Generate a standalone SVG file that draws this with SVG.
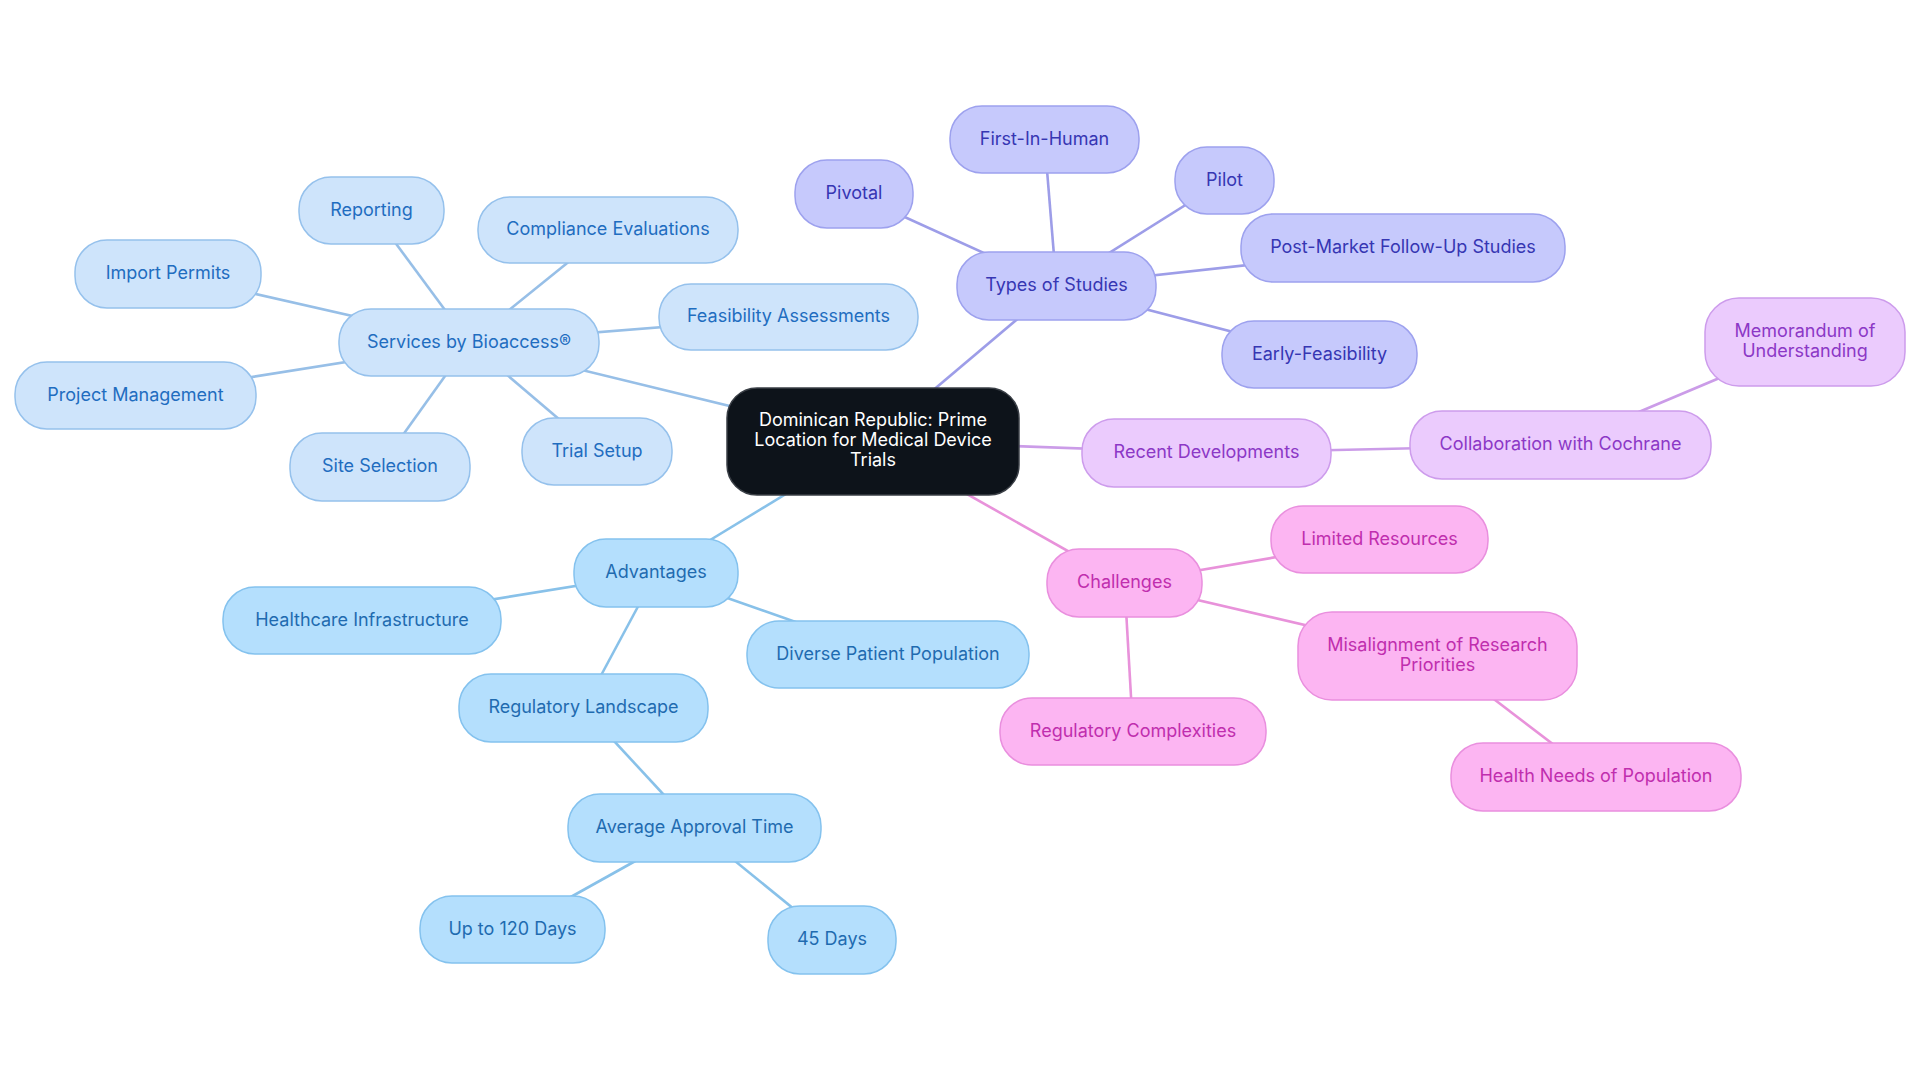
<svg xmlns="http://www.w3.org/2000/svg" width="1920" height="1083" viewBox="0 0 1920 1083">
<style>
text{font-family:Inter,"Noto Sans","Liberation Sans",sans-serif;font-size:18px;text-anchor:middle;dominant-baseline:central;transform:translateY(-1.5px)}
rect{stroke-width:1.5}
.e line{stroke-width:2.6;fill:none}
.c rect{fill:#0d131a;stroke:#3a3f46}
.c text{fill:#ffffff}
.s rect{fill:#cee4fb;stroke:#95c1ec}
.s text{fill:#1f6dc0}
.t rect{fill:#c6c9fc;stroke:#9da1ee}
.t text{fill:#3636b3}
.r rect{fill:#ebcbfd;stroke:#cd9cec}
.r text{fill:#8c38c6}
.h rect{fill:#fcb5f2;stroke:#e98fde}
.h text{fill:#c02eae}
.a rect{fill:#b4dffd;stroke:#84c2ee}
.a text{fill:#1f6bb0}
.es{stroke:#97bfe7}
.et{stroke:#9d9de8}
.er{stroke:#cb9ce8}
.eh{stroke:#e892da}
.ea{stroke:#88c1e9}
</style>
<rect width="1920" height="1083" fill="#ffffff"/>
<g id="connectors" class="e">
<line class="es" x1="873" y1="441" x2="469" y2="342.5"/>
<line class="et" x1="873" y1="441" x2="1056.5" y2="286"/>
<line class="er" x1="873" y1="441" x2="1206.5" y2="453"/>
<line class="eh" x1="873" y1="441" x2="1124.5" y2="583"/>
<line class="ea" x1="873" y1="441" x2="656" y2="573"/>
<line class="es" x1="469" y1="342.5" x2="371.5" y2="210.5"/>
<line class="es" x1="469" y1="342.5" x2="608" y2="230"/>
<line class="es" x1="469" y1="342.5" x2="168" y2="274"/>
<line class="es" x1="469" y1="342.5" x2="788.5" y2="317"/>
<line class="es" x1="469" y1="342.5" x2="135.5" y2="395.5"/>
<line class="es" x1="469" y1="342.5" x2="380" y2="467"/>
<line class="es" x1="469" y1="342.5" x2="597" y2="451.5"/>
<line class="et" x1="1056.5" y1="286" x2="854" y2="194"/>
<line class="et" x1="1056.5" y1="286" x2="1044.5" y2="139.5"/>
<line class="et" x1="1056.5" y1="286" x2="1224.5" y2="180.5"/>
<line class="et" x1="1056.5" y1="286" x2="1403" y2="248"/>
<line class="et" x1="1056.5" y1="286" x2="1319.5" y2="354.5"/>
<line class="er" x1="1206.5" y1="453" x2="1560.5" y2="445"/>
<line class="er" x1="1560.5" y1="445" x2="1805" y2="342"/>
<line class="eh" x1="1124.5" y1="583" x2="1379.5" y2="539.5"/>
<line class="eh" x1="1124.5" y1="583" x2="1437.5" y2="656"/>
<line class="eh" x1="1124.5" y1="583" x2="1133" y2="731.5"/>
<line class="eh" x1="1437.5" y1="656" x2="1596" y2="777"/>
<line class="ea" x1="656" y1="573" x2="362" y2="620.5"/>
<line class="ea" x1="656" y1="573" x2="888" y2="654.5"/>
<line class="ea" x1="656" y1="573" x2="583.5" y2="708"/>
<line class="ea" x1="583.5" y1="708" x2="694.5" y2="828"/>
<line class="ea" x1="694.5" y1="828" x2="512.5" y2="929.5"/>
<line class="ea" x1="694.5" y1="828" x2="832" y2="940"/>
</g>
<g id="central" class="c"><rect x="727" y="388" width="292" height="107" rx="30"/><text x="873" y="421">Dominican Republic: Prime</text><text x="873" y="441">Location for Medical Device</text><text x="873" y="461">Trials</text></g>
<g id="services" class="s"><rect x="339" y="309" width="260" height="67" rx="32"/><text x="469" y="342.5">Services by Bioaccess®</text></g>
<g id="reporting" class="s"><rect x="299" y="177" width="145" height="67" rx="32"/><text x="371.5" y="210.5">Reporting</text></g>
<g id="compliance" class="s"><rect x="478" y="197" width="260" height="66" rx="32"/><text x="608" y="230">Compliance Evaluations</text></g>
<g id="import" class="s"><rect x="75" y="240" width="186" height="68" rx="32"/><text x="168" y="274">Import Permits</text></g>
<g id="feasibility" class="s"><rect x="659" y="284" width="259" height="66" rx="32"/><text x="788.5" y="317">Feasibility Assessments</text></g>
<g id="project" class="s"><rect x="15" y="362" width="241" height="67" rx="32"/><text x="135.5" y="395.5">Project Management</text></g>
<g id="site" class="s"><rect x="290" y="433" width="180" height="68" rx="32"/><text x="380" y="467">Site Selection</text></g>
<g id="trial" class="s"><rect x="522" y="418" width="150" height="67" rx="32"/><text x="597" y="451.5">Trial Setup</text></g>
<g id="types" class="t"><rect x="957" y="252" width="199" height="68" rx="32"/><text x="1056.5" y="286">Types of Studies</text></g>
<g id="pivotal" class="t"><rect x="795" y="160" width="118" height="68" rx="32"/><text x="854" y="194">Pivotal</text></g>
<g id="fih" class="t"><rect x="950" y="106" width="189" height="67" rx="32"/><text x="1044.5" y="139.5">First-In-Human</text></g>
<g id="pilot" class="t"><rect x="1175" y="147" width="99" height="67" rx="32"/><text x="1224.5" y="180.5">Pilot</text></g>
<g id="postmarket" class="t"><rect x="1241" y="214" width="324" height="68" rx="32"/><text x="1403" y="248">Post-Market Follow-Up Studies</text></g>
<g id="early" class="t"><rect x="1222" y="321" width="195" height="67" rx="32"/><text x="1319.5" y="354.5">Early-Feasibility</text></g>
<g id="recent" class="r"><rect x="1082" y="419" width="249" height="68" rx="32"/><text x="1206.5" y="453">Recent Developments</text></g>
<g id="cochrane" class="r"><rect x="1410" y="411" width="301" height="68" rx="32"/><text x="1560.5" y="445">Collaboration with Cochrane</text></g>
<g id="mou" class="r"><rect x="1705" y="298" width="200" height="88" rx="34"/><text x="1805" y="332">Memorandum of</text><text x="1805" y="352">Understanding</text></g>
<g id="challenges" class="h"><rect x="1047" y="549" width="155" height="68" rx="32"/><text x="1124.5" y="583">Challenges</text></g>
<g id="limited" class="h"><rect x="1271" y="506" width="217" height="67" rx="32"/><text x="1379.5" y="539.5">Limited Resources</text></g>
<g id="misalignment" class="h"><rect x="1298" y="612" width="279" height="88" rx="34"/><text x="1437.5" y="646">Misalignment of Research</text><text x="1437.5" y="666">Priorities</text></g>
<g id="healthneeds" class="h"><rect x="1451" y="743" width="290" height="68" rx="32"/><text x="1596" y="777">Health Needs of Population</text></g>
<g id="regcomplex" class="h"><rect x="1000" y="698" width="266" height="67" rx="32"/><text x="1133" y="731.5">Regulatory Complexities</text></g>
<g id="advantages" class="a"><rect x="574" y="539" width="164" height="68" rx="32"/><text x="656" y="573">Advantages</text></g>
<g id="healthcare" class="a"><rect x="223" y="587" width="278" height="67" rx="32"/><text x="362" y="620.5">Healthcare Infrastructure</text></g>
<g id="diverse" class="a"><rect x="747" y="621" width="282" height="67" rx="32"/><text x="888" y="654.5">Diverse Patient Population</text></g>
<g id="reglandscape" class="a"><rect x="459" y="674" width="249" height="68" rx="32"/><text x="583.5" y="708">Regulatory Landscape</text></g>
<g id="approval" class="a"><rect x="568" y="794" width="253" height="68" rx="32"/><text x="694.5" y="828">Average Approval Time</text></g>
<g id="upto120" class="a"><rect x="420" y="896" width="185" height="67" rx="32"/><text x="512.5" y="929.5">Up to 120 Days</text></g>
<g id="days45" class="a"><rect x="768" y="906" width="128" height="68" rx="32"/><text x="832" y="940">45 Days</text></g>
</svg>
